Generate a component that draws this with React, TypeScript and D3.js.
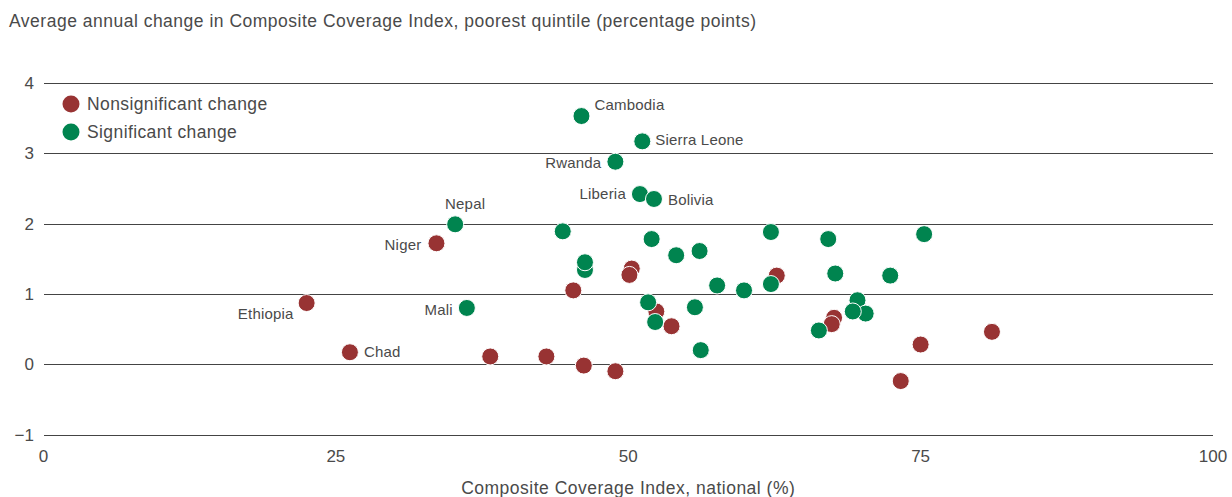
import React from "react";
import * as d3 from "d3";

// Nonsignificant change: [national CCI %, avg annual change pp]
const nonsigX = [22.5, 26.2, 33.6, 38.2, 43.0, 45.3, 46.2, 48.9, 50.3, 50.1, 52.4, 53.7, 62.7, 67.6, 67.4, 81.1, 75.0, 73.3];
const nonsigY = [0.87, 0.17, 1.72, 0.11, 0.11, 1.05, -0.02, -0.10, 1.36, 1.27, 0.75, 0.54, 1.26, 0.66, 0.57, 0.46, 0.28, -0.24];
const nonsigNames = ["Ethiopia", "Chad", "Niger", "", "", "", "", "", "", "", "", "", "", "", "", "", "", ""];

// Significant change
const sigX = [46.0, 51.2, 48.9, 51.0, 52.2, 35.2, 36.2, 44.4, 46.3, 46.3, 52.0, 54.1, 56.1, 62.2, 62.2, 57.6, 59.9, 51.7, 52.3, 55.7, 56.2, 66.3, 67.1, 75.3, 67.7, 72.4, 69.6, 70.3, 69.2];
const sigY = [3.53, 3.17, 2.88, 2.42, 2.35, 1.99, 0.80, 1.89, 1.34, 1.45, 1.78, 1.55, 1.61, 1.88, 1.14, 1.12, 1.05, 0.88, 0.60, 0.81, 0.20, 0.48, 1.78, 1.85, 1.29, 1.26, 0.91, 0.72, 0.75];
const sigNames = ["Cambodia", "Sierra Leone", "Rwanda", "Liberia", "Bolivia", "Nepal", "Mali", "", "", "", "", "", "", "", "", "", "", "", "", "", "", "", "", "", "", "", "", "", ""];

const yTicks = [-1, 0, 1, 2, 3, 4];
const xTicks = [0, 25, 50, 75, 100];
const legendLabels = ["Nonsignificant change", "Significant change"];
const title = "Average annual change in Composite Coverage Index, poorest quintile (percentage points)";
const xTitle = "Composite Coverage Index, national (%)";

// label placement (style)
const labelPlacement: Record<string, { anchor: string; dx: number; dy: number }> = {
  Cambodia: { anchor: "start", dx: 13, dy: -6 },
  "Sierra Leone": { anchor: "start", dx: 13, dy: 4 },
  Rwanda: { anchor: "end", dx: -14, dy: 6 },
  Liberia: { anchor: "end", dx: -14, dy: 5 },
  Bolivia: { anchor: "start", dx: 14, dy: 6 },
  Nepal: { anchor: "middle", dx: 10, dy: -15 },
  Niger: { anchor: "end", dx: -15, dy: 7 },
  Ethiopia: { anchor: "end", dx: -13, dy: 16 },
  Mali: { anchor: "end", dx: -14, dy: 7 },
  Chad: { anchor: "start", dx: 14, dy: 5 },
};

const RED = "#983333";
const GREEN = "#00844F";
const FONT = "'Liberation Sans', Arial, sans-serif";
const TEXT = "#4a4a4a";

export default function App() {
  const W = 1232, H = 497;
  const x = d3.scaleLinear().domain([0, 100]).range([43.5, 1213]);
  const y = d3.scaleLinear().domain([-1, 4]).range([434.5, 83]);

  type P = { x: number; y: number; name: string; color: string };
  const pts: P[] = [];
  nonsigX.forEach((v, i) => pts.push({ x: v, y: nonsigY[i], name: nonsigNames[i], color: RED }));
  sigX.forEach((v, i) => pts.push({ x: v, y: sigY[i], name: sigNames[i], color: GREEN }));

  const r = 8.5;

  return (
    <svg width={W} height={H} style={{ position: "absolute", left: 0, top: 0, background: "#fff" }} fontFamily={FONT}>
      <text x={9} y={26.5} fontSize={17.5} letterSpacing={0.5} fill={TEXT}>{title}</text>
      {yTicks.map((t) => (
        <g key={t}>
          <line x1={44} x2={1213} y1={Math.round(y(t)) + 0.5} y2={Math.round(y(t)) + 0.5} stroke="#444" strokeWidth={1.2} />
          <text x={34} y={y(t) + 6} textAnchor="end" fontSize={17} fill={TEXT}>
            {t < 0 ? "\u2212" + Math.abs(t) : t}
          </text>
        </g>
      ))}
      {xTicks.map((t) => (
        <text key={t} x={x(t)} y={462} textAnchor="middle" fontSize={17} fill={TEXT}>{t}</text>
      ))}
      <text x={x(50)} y={494} textAnchor="middle" fontSize={17.5} letterSpacing={0.5} fill={TEXT}>{xTitle}</text>

      {pts.map((p, i) => (
        <circle key={i} cx={x(p.x)} cy={y(p.y)} r={r} fill={p.color} stroke="#fff" strokeWidth={1} />
      ))}
      {pts.filter((p) => p.name).map((p) => {
        const lp = labelPlacement[p.name];
        return (
          <text key={p.name} x={x(p.x) + lp.dx} y={y(p.y) + lp.dy} textAnchor={lp.anchor as any} fontSize={15} letterSpacing={0.2} fill={TEXT}>
            {p.name}
          </text>
        );
      })}

      {legendLabels.map((l, i) => (
        <g key={l}>
          <circle cx={71} cy={104 + i * 28} r={8.5} fill={i === 0 ? RED : GREEN} />
          <text x={87} y={110 + i * 28} fontSize={17.5} letterSpacing={0.4} fill={TEXT}>{l}</text>
        </g>
      ))}
    </svg>
  );
}
